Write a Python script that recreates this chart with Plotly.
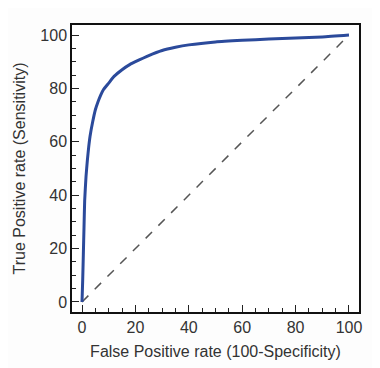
import plotly.graph_objects as go

fpr = [0, 0.25, 0.5, 0.75, 1, 1.5, 2, 2.5, 3, 4, 5, 6, 7, 8, 10, 12, 15, 18, 20,
       25, 30, 35, 40, 50, 60, 70, 80, 90, 100]
tpr = [0, 8, 18, 28, 38, 47, 53, 58, 62, 67.5, 72, 75, 77.5, 79.5, 82, 84.5, 87, 89, 90,
       92.3, 94.2, 95.4, 96.3, 97.4, 98.0, 98.5, 98.9, 99.3, 100]
ref_x = [0, 100]
ref_y = [0, 100]

font = dict(family="Liberation Sans, Arial", size=16, color="#333")

fig = go.Figure()
fig.add_trace(go.Scatter(x=ref_x, y=ref_y, mode="lines",
                         line=dict(color="#555555", width=1.5, dash="dash"),
                         showlegend=False, hoverinfo="skip"))
fig.add_trace(go.Scatter(x=fpr, y=tpr, mode="lines",
                         line=dict(color="#2b4a9b", width=3, shape="spline", smoothing=0.5),
                         showlegend=False))

axis_common = dict(
    range=[-3.75, 103.75], tickvals=[0, 20, 40, 60, 80, 100],
    ticks="inside", ticklen=7, tickwidth=1.2, tickcolor="#222",
    minor=dict(dtick=5, tick0=0, ticks="inside", ticklen=4, tickwidth=1, tickcolor="#222"),
    showgrid=False, zeroline=False, showline=True, linecolor="#111", linewidth=1.5,
    mirror=True, tickfont=font, fixedrange=True,
)

fig.update_layout(
    width=380, height=368,
    margin=dict(l=64, r=29, t=17, b=64, autoexpand=False),
    paper_bgcolor="#fdfdfd", plot_bgcolor="white",
    xaxis=dict(**axis_common,
               title=dict(text="False Positive rate (100-Specificity)", standoff=11, font=font)),
    yaxis=dict(**axis_common,
               title=dict(text="True Positive rate (Sensitivity)", standoff=11, font=font)),
)

fig.write_html("out.html")
